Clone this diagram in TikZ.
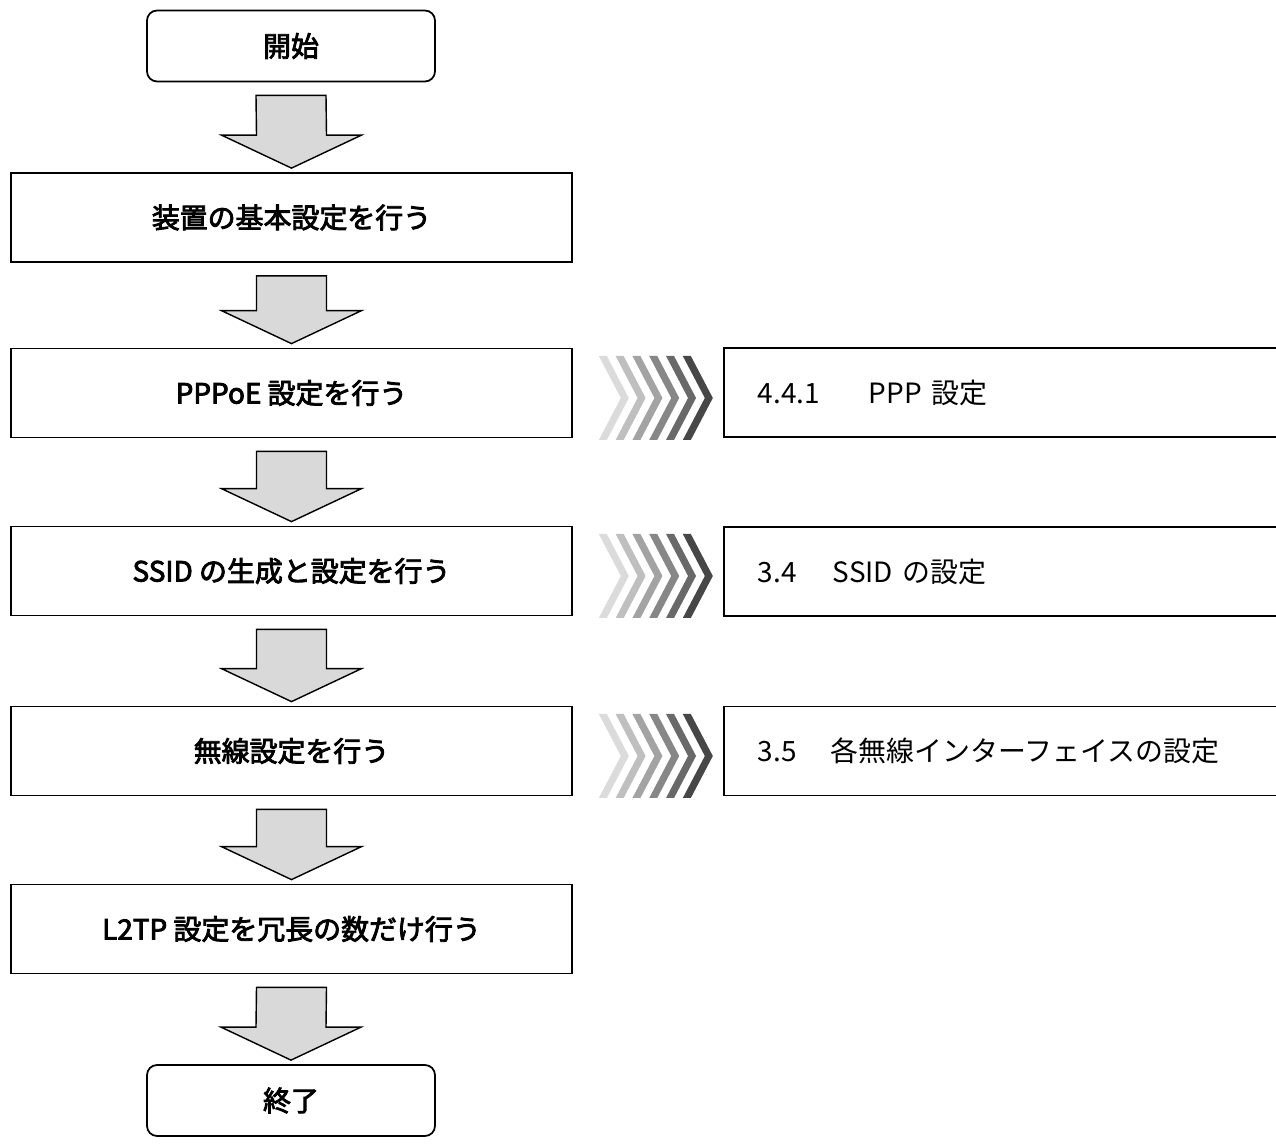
\documentclass[tikz,border=0pt]{standalone}
\usepackage{fontspec}
\setmainfont{Noto Sans CJK JP}[BoldFont={Noto Sans CJK JP},BoldFeatures={FakeBold=3}]
\usetikzlibrary{calc}
\definecolor{arrowgray}{HTML}{D9D9D9}
\tikzset{
  x=0.02cm, y=-0.02cm,
  every node/.style={font=\fontsize{15.9pt}{19pt}\selectfont},
  stepbox/.style={draw, line width=1pt, minimum width=11.22cm, minimum height=1.78cm, inner sep=0pt, font=\fontsize{15.9pt}{19pt}\selectfont\bfseries},
  termbox/.style={draw, line width=1pt, rounded corners=0.2cm, minimum width=5.76cm, minimum height=1.42cm, inner sep=0pt, font=\fontsize{15.9pt}{19pt}\selectfont\bfseries},
  refbox/.style={draw, line width=1pt, anchor=west, minimum height=1.78cm, text width=10.04cm, inner xsep=0.68cm, inner ysep=0pt, align=left},
  blockarrow/.style={draw, line width=0.8pt, fill=arrowgray, line join=miter},
}
\newcommand\blockarr[2]{%
  \draw[blockarrow] ($(#1.south)+(-35,13)$) -- ($(#1.south)+(35,13)$)
    -- ($(#2.north)+(35,-37)$) -- ($(#2.north)+(70,-37)$)
    -- ($(#2.north)+(0,-4)$)
    -- ($(#2.north)+(-70,-37)$) -- ($(#2.north)+(-35,-37)$) -- cycle;}
\newcommand\chevrons[1]{%
  \foreach \i/\c in {0/14,1/25,2/36,3/47,4/59,5/72} {
    \fill[black!\c] ($(#1.east)+(26+16.8*\i,-37)$) -- ++(8,0) -- ++(22,42) -- ++(-22,42) -- ++(-8,0) -- ++(22,-42) -- cycle;
  }}
\begin{document}
\begin{tikzpicture}
\useasboundingbox (0,0) rectangle (1276,1148);
\node[termbox] (start) at (291,46) {開始};
\node[stepbox] (basic) at (291.5,217.5) {装置の基本設定を行う};
\node[stepbox] (pppoe) at (291.5,393) {PPPoE 設定を行う};
\node[stepbox] (ssid) at (291.5,571) {SSID の生成と設定を行う};
\node[stepbox] (wlan) at (291.5,751) {無線設定を行う};
\node[stepbox] (l2tp) at (291.5,929) {L2TP 設定を冗長の数だけ行う};
\node[termbox] (end) at (291,1100.5) {終了};

\node[refbox] (rppp) at (723,392.5) {\makebox[2.22cm][l]{4.4.1}PPP 設定};
\node[refbox] (rssid) at (723,571.5) {\makebox[1.5cm][l]{3.4}SSID の設定};
\node[refbox] (rwlan) at (723,751) {\makebox[1.46cm][l]{3.5}各無線インターフェイスの設定};

\blockarr{start}{basic}
\blockarr{basic}{pppoe}
\blockarr{pppoe}{ssid}
\blockarr{ssid}{wlan}
\blockarr{wlan}{l2tp}
\blockarr{l2tp}{end}

\chevrons{pppoe}
\chevrons{ssid}
\chevrons{wlan}
\end{tikzpicture}
\end{document}
